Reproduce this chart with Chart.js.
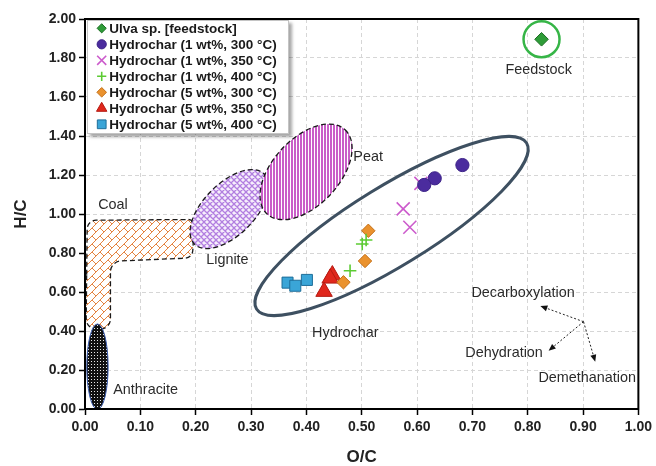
<!DOCTYPE html>
<html>
<head>
<meta charset="utf-8">
<script src="https://cdn.jsdelivr.net/npm/chart.js@4/dist/chart.umd.min.js"></script>
<style>
  html, body { margin: 0; padding: 0; background: #ffffff; }
  #wrap { width: 656px; height: 466px; }
</style>
</head>
<body>
<div id="wrap"><canvas id="vk" width="656" height="466"></canvas></div>
<script>
// ---- Van Krevelen data: atomic O/C (x) and H/C (y) ----
const seriesNames = [
  'Ulva sp. [feedstock]',
  'Hydrochar (1 wt%, 300 °C)',
  'Hydrochar (1 wt%, 350 °C)',
  'Hydrochar (1 wt%, 400 °C)',
  'Hydrochar (5 wt%, 300 °C)',
  'Hydrochar (5 wt%, 350 °C)',
  'Hydrochar (5 wt%, 400 °C)'
];
const ocFeed   = [0.825];
const hcFeed   = [1.896];
const oc1w300  = [0.682, 0.632, 0.613];
const hc1w300  = [1.251, 1.183, 1.149];
const oc1w350  = [0.607, 0.575, 0.587];
const hc1w350  = [1.157, 1.026, 0.932];
const oc1w400  = [0.508, 0.501, 0.479];
const hc1w400  = [0.867, 0.846, 0.709];
const oc5w300  = [0.512, 0.506, 0.467];
const hc5w300  = [0.914, 0.759, 0.650];
const oc5w350  = [0.447, 0.443, 0.432];
const hc5w350  = [0.687, 0.670, 0.602];
const oc5w400  = [0.366, 0.380, 0.401];
const hc5w400  = [0.648, 0.632, 0.662];

const ocTicks = [0.0, 0.1, 0.2, 0.3, 0.4, 0.5, 0.6, 0.7, 0.8, 0.9, 1.0];
const hcTicks = [0.0, 0.2, 0.4, 0.6, 0.8, 1.0, 1.2, 1.4, 1.6, 1.8, 2.0];

// ---- fuel-class zones and annotations, in O/C – H/C units ----
const coalOutline = [
  { p: [0.004, 0.968], r: 9 },
  { p: [0.198, 0.972], r: 6 },
  { p: [0.194, 0.775], r: 8 },
  { p: [0.046, 0.757], r: 11 },
  { p: [0.046, 0.410], r: 10 },
  { p: [0.002, 0.410], r: 10 }
];
const zoneEllipses = {
  lignite:    { a: [0.1980, 0.845], b: [0.3240, 1.205], ratio: 0.52 },
  peat:       { a: [0.3290, 1.000], b: [0.4700, 1.432], ratio: 0.58 },
  anthracite: { a: [0.0225, -0.002], b: [0.0225, 0.436], ratio: 0.25 },
  hydrochar:  { a: [0.310, 0.513], b: [0.798, 1.364], ratio: 0.25 }
};
const zoneLabels = [
  { text: 'Feedstock',       at: [0.8198, 1.738] },
  { text: 'Peat',            at: [0.5117, 1.292] },
  { text: 'Coal',            at: [0.0505, 1.046] },
  { text: 'Lignite',         at: [0.2573, 0.764] },
  { text: 'Anthracite',      at: [0.1096, 0.097] },
  { text: 'Hydrochar',       at: [0.4703, 0.390] },
  { text: 'Decarboxylation', at: [0.7916, 0.593] },
  { text: 'Dehydration',     at: [0.7573, 0.289] },
  { text: 'Demethanation',   at: [0.9075, 0.157] }
];
const pathwayOrigin = [0.9009, 0.4477];
const pathwayTips = [[0.8229, 0.5282], [0.8378, 0.2990], [0.9220, 0.2426]];

const pts = (xs, ys) => xs.map((x, i) => ({ x: x, y: ys[i] }));

const FONT = '"Liberation Sans", Arial, Helvetica, sans-serif';

// ---- fill patterns ----
function makePattern(w, h, draw) {
  const c = document.createElement('canvas');
  c.width = w; c.height = h;
  const g = c.getContext('2d');
  draw(g, w, h);
  return c;
}
const brickTile = makePattern(8, 8, (g) => {
  g.fillStyle = '#ffffff'; g.fillRect(0, 0, 8, 8);
  g.strokeStyle = '#e4833f'; g.lineWidth = 1;
  g.beginPath();
  g.moveTo(0, 8); g.lineTo(8, 0);
  g.moveTo(4, 4); g.lineTo(8, 8);
  g.stroke();
});
const latticeTile = makePattern(6, 6, (g) => {
  g.fillStyle = '#f6eefc'; g.fillRect(0, 0, 6, 6);
  g.strokeStyle = '#b27ee0'; g.lineWidth = 1.3;
  g.beginPath();
  g.moveTo(-1, -1); g.lineTo(7, 7);
  g.moveTo(-1, 7); g.lineTo(7, -1);
  g.moveTo(-1, 5); g.lineTo(1, 7); g.moveTo(5, -1); g.lineTo(7, 1);
  g.moveTo(5, 7); g.lineTo(7, 5); g.moveTo(-1, 1); g.lineTo(1, -1);
  g.stroke();
});
const stripeTile = makePattern(3, 3, (g) => {
  g.fillStyle = '#ffffff'; g.fillRect(0, 0, 3, 3);
  g.fillStyle = '#c95ec8'; g.fillRect(0, 0, 2, 3);
});
const dotTile = makePattern(3, 3, (g) => {
  g.fillStyle = '#111111'; g.fillRect(0, 0, 3, 3);
  g.fillStyle = '#e8e8e8'; g.fillRect(1, 1, 1, 1);
});

function toPx(chart, p) {
  return [chart.scales.x.getPixelForValue(p[0]), chart.scales.y.getPixelForValue(p[1])];
}
function ellipsePath(ctx, chart, e) {
  const A = toPx(chart, e.a), B = toPx(chart, e.b);
  const cx = (A[0] + B[0]) / 2, cy = (A[1] + B[1]) / 2;
  const half = Math.hypot(B[0] - A[0], B[1] - A[1]) / 2;
  const ang = Math.atan2(B[1] - A[1], B[0] - A[0]);
  ctx.beginPath();
  ctx.ellipse(cx, cy, half, half * e.ratio, ang, 0, Math.PI * 2);
  ctx.closePath();
}
function roundedPolyPath(ctx, chart, outline) {
  const P = outline.map(o => toPx(chart, o.p));
  const n = P.length;
  const mid = (a, b) => [(a[0] + b[0]) / 2, (a[1] + b[1]) / 2];
  const m0 = mid(P[n - 1], P[0]);
  ctx.beginPath();
  ctx.moveTo(m0[0], m0[1]);
  for (let i = 0; i < n; i++) {
    const nx = P[(i + 1) % n];
    ctx.arcTo(P[i][0], P[i][1], nx[0], nx[1], outline[i].r);
  }
  ctx.closePath();
}
function fillZone(ctx, tile, dashColor, dashed, width) {
  ctx.fillStyle = ctx.createPattern(tile, 'repeat');
  ctx.fill();
  ctx.strokeStyle = dashColor;
  ctx.lineWidth = width;
  ctx.setLineDash(dashed ? [5, 3] : []);
  ctx.stroke();
  ctx.setLineDash([]);
}

const zonePlugin = {
  id: 'vkZones',
  beforeDatasetsDraw(chart) {
    const { ctx, chartArea: ca } = chart;
    ctx.save();
    ctx.beginPath();
    ctx.rect(ca.left, ca.top, ca.right - ca.left, ca.bottom - ca.top);
    ctx.clip();

    roundedPolyPath(ctx, chart, coalOutline);
    fillZone(ctx, brickTile, '#1a1a1a', true, 1.3);

    ellipsePath(ctx, chart, zoneEllipses.lignite);
    fillZone(ctx, latticeTile, '#1a1a1a', true, 1.3);

    ellipsePath(ctx, chart, zoneEllipses.peat);
    fillZone(ctx, stripeTile, '#1a1a1a', true, 1.3);

    ellipsePath(ctx, chart, zoneEllipses.anthracite);
    fillZone(ctx, dotTile, '#3b5db0', false, 1);

    ellipsePath(ctx, chart, zoneEllipses.hydrochar);
    ctx.strokeStyle = '#3e5061';
    ctx.lineWidth = 3;
    ctx.stroke();

    // ring around the feedstock point
    const f = toPx(chart, [ocFeed[0], hcFeed[0]]);
    ctx.beginPath();
    ctx.arc(f[0], f[1], 18, 0, Math.PI * 2);
    ctx.strokeStyle = '#36b547';
    ctx.lineWidth = 2.5;
    ctx.stroke();
    ctx.restore();
  }
};

function drawMarker(ctx, ds, x, y, r) {
  ctx.save();
  ctx.fillStyle = ds.pointBackgroundColor;
  ctx.strokeStyle = ds.pointBorderColor;
  ctx.lineWidth = ds.pointBorderWidth;
  ctx.beginPath();
  const s = ds.pointStyle;
  if (s === 'circle') {
    ctx.arc(x, y, r, 0, Math.PI * 2);
    ctx.fill(); ctx.stroke();
  } else if (s === 'rectRot') {
    ctx.moveTo(x, y - r); ctx.lineTo(x + r, y); ctx.lineTo(x, y + r); ctx.lineTo(x - r, y); ctx.closePath();
    ctx.fill(); ctx.stroke();
  } else if (s === 'rect') {
    const h = r * Math.SQRT1_2;
    ctx.rect(x - h, y - h, 2 * h, 2 * h);
    ctx.fill(); ctx.stroke();
  } else if (s === 'triangle') {
    ctx.moveTo(x, y - r);
    ctx.lineTo(x + r * 0.866, y + r * 0.5);
    ctx.lineTo(x - r * 0.866, y + r * 0.5);
    ctx.closePath();
    ctx.fill(); ctx.stroke();
  } else if (s === 'cross') {
    ctx.moveTo(x - r, y); ctx.lineTo(x + r, y); ctx.moveTo(x, y - r); ctx.lineTo(x, y + r);
    ctx.stroke();
  } else if (s === 'crossRot') {
    const h = r * Math.SQRT1_2;
    ctx.moveTo(x - h, y - h); ctx.lineTo(x + h, y + h); ctx.moveTo(x - h, y + h); ctx.lineTo(x + h, y - h);
    ctx.stroke();
  }
  ctx.restore();
}

const overlayPlugin = {
  id: 'vkOverlay',
  afterDraw(chart) {
    const { ctx, chartArea: ca } = chart;
    ctx.save();
    // plot frame
    ctx.strokeStyle = '#000000';
    ctx.lineWidth = 2;
    ctx.strokeRect(ca.left, ca.top, ca.right - ca.left, ca.bottom - ca.top);

    // zone and pathway labels
    ctx.font = '14.4px ' + FONT;
    ctx.fillStyle = '#2b2b2b';
    ctx.textAlign = 'center';
    ctx.textBaseline = 'middle';
    zoneLabels.forEach(l => {
      const p = toPx(chart, l.at);
      ctx.fillText(l.text, p[0], p[1]);
    });

    // pathway arrows
    const o = toPx(chart, pathwayOrigin);
    pathwayTips.forEach(t => {
      const q = toPx(chart, t);
      const ang = Math.atan2(q[1] - o[1], q[0] - o[0]);
      const hl = 7, hw = 3;
      const bx = q[0] - Math.cos(ang) * hl, by = q[1] - Math.sin(ang) * hl;
      ctx.beginPath();
      ctx.setLineDash([2, 2]);
      ctx.strokeStyle = '#222';
      ctx.lineWidth = 1;
      ctx.moveTo(o[0], o[1]);
      ctx.lineTo(bx, by);
      ctx.stroke();
      ctx.setLineDash([]);
      ctx.beginPath();
      ctx.moveTo(q[0], q[1]);
      ctx.lineTo(bx - Math.sin(ang) * hw, by + Math.cos(ang) * hw);
      ctx.lineTo(bx + Math.sin(ang) * hw, by - Math.cos(ang) * hw);
      ctx.closePath();
      ctx.fillStyle = '#111';
      ctx.fill();
    });

    // legend box
    const left = ca.left + 2, top = ca.top + 1, w = 202, h = 114;
    ctx.shadowColor = 'rgba(0,0,0,0.35)';
    ctx.shadowBlur = 3;
    ctx.shadowOffsetX = 3;
    ctx.shadowOffsetY = 3;
    ctx.fillStyle = '#ffffff';
    ctx.fillRect(left, top, w, h);
    ctx.shadowColor = 'rgba(0,0,0,0)';
    ctx.strokeStyle = '#c4c4c4';
    ctx.lineWidth = 1;
    ctx.strokeRect(left + 0.5, top + 0.5, w - 1, h - 1);
    ctx.font = 'bold 13.5px ' + FONT;
    ctx.textAlign = 'left';
    ctx.textBaseline = 'middle';
    chart.data.datasets.forEach((ds, i) => {
      const cy = top + 8.3 + i * 16;
      drawMarker(ctx, ds, left + 14.7, cy, ds.legendRadius);
      ctx.fillStyle = '#1a1a1a';
      ctx.fillText(ds.label, left + 22.3, cy + 0.5);
    });
    ctx.restore();
  }
};

const datasets = [
  { label: seriesNames[0], data: pts(ocFeed, hcFeed), pointStyle: 'rectRot', pointRadius: 6.8,
    pointBackgroundColor: '#2e9c38', pointBorderColor: '#1d6e24', pointBorderWidth: 1, legendRadius: 4.6 },
  { label: seriesNames[1], data: pts(oc1w300, hc1w300), pointStyle: 'circle', pointRadius: 6.6,
    pointBackgroundColor: '#4b2c9e', pointBorderColor: '#3d2388', pointBorderWidth: 1, legendRadius: 4.6 },
  { label: seriesNames[2], data: pts(oc1w350, hc1w350), pointStyle: 'crossRot', pointRadius: 9.2,
    pointBackgroundColor: '#cc5bcc', pointBorderColor: '#cc5bcc', pointBorderWidth: 1.6, legendRadius: 6.4 },
  { label: seriesNames[3], data: pts(oc1w400, hc1w400), pointStyle: 'cross', pointRadius: 6.3,
    pointBackgroundColor: '#5ccb33', pointBorderColor: '#5ccb33', pointBorderWidth: 1.6, legendRadius: 4.6 },
  { label: seriesNames[4], data: pts(oc5w300, hc5w300), pointStyle: 'rectRot', pointRadius: 6.7,
    pointBackgroundColor: '#ea922e', pointBorderColor: '#c46f17', pointBorderWidth: 1, legendRadius: 4.8 },
  { label: seriesNames[5], data: pts(oc5w350, hc5w350), pointStyle: 'triangle', pointRadius: 9.5,
    pointBackgroundColor: '#e0271c', pointBorderColor: '#b51b12', pointBorderWidth: 1, legendRadius: 6 },
  { label: seriesNames[6], data: pts(oc5w400, hc5w400), pointStyle: 'rect', pointRadius: 7.8,
    pointBackgroundColor: '#3aa5d7', pointBorderColor: '#1e6e9a', pointBorderWidth: 1, legendRadius: 6.2 }
].map(d => Object.assign({
  showLine: false,
  pointHoverRadius: d.pointRadius,
  backgroundColor: d.pointBackgroundColor,
  borderColor: d.pointBorderColor
}, d));

const tickFont = { family: FONT, size: 14, weight: 'bold' };
const titleFont = { family: FONT, size: 17, weight: 'bold', lineHeight: 1 };

new Chart(document.getElementById('vk'), {
  type: 'scatter',
  data: { datasets: datasets },
  options: {
    responsive: false,
    animation: false,
    devicePixelRatio: 1,
    layout: { padding: { top: 19, right: 16, left: 0, bottom: 0 } },
    plugins: { legend: { display: false }, tooltip: { enabled: false } },
    scales: {
      x: {
        type: 'linear', min: 0, max: 1,
        afterBuildTicks: s => { s.ticks = ocTicks.map(v => ({ value: v })); },
        afterFit: s => { s.height = 57; },
        ticks: { callback: v => Number(v).toFixed(2), font: tickFont, color: '#222', padding: 4, maxRotation: 0, autoSkip: false },
        grid: { color: '#d6d6d6', lineWidth: 1, tickColor: '#000', tickLength: 6, tickWidth: 1.5, tickBorderDash: [] },
        border: { display: true, color: '#000', width: 2, dash: [4, 3] },
        title: { display: true, text: 'O/C', font: titleFont, color: '#222', padding: { top: 0, bottom: 0 } }
      },
      y: {
        type: 'linear', min: 0, max: 2,
        afterBuildTicks: s => { s.ticks = hcTicks.map(v => ({ value: v })); },
        afterFit: s => { s.width = 85; },
        ticks: { callback: v => Number(v).toFixed(2), font: tickFont, color: '#222', padding: 3, autoSkip: false },
        grid: { color: '#d6d6d6', lineWidth: 1, tickColor: '#000', tickLength: 6, tickWidth: 1.5, tickBorderDash: [] },
        border: { display: true, color: '#000', width: 2, dash: [4, 3] },
        title: { display: true, text: 'H/C', font: titleFont, color: '#222', padding: { top: 13, bottom: 0 } }
      }
    }
  },
  plugins: [zonePlugin, overlayPlugin]
});
</script>
</body>
</html>
